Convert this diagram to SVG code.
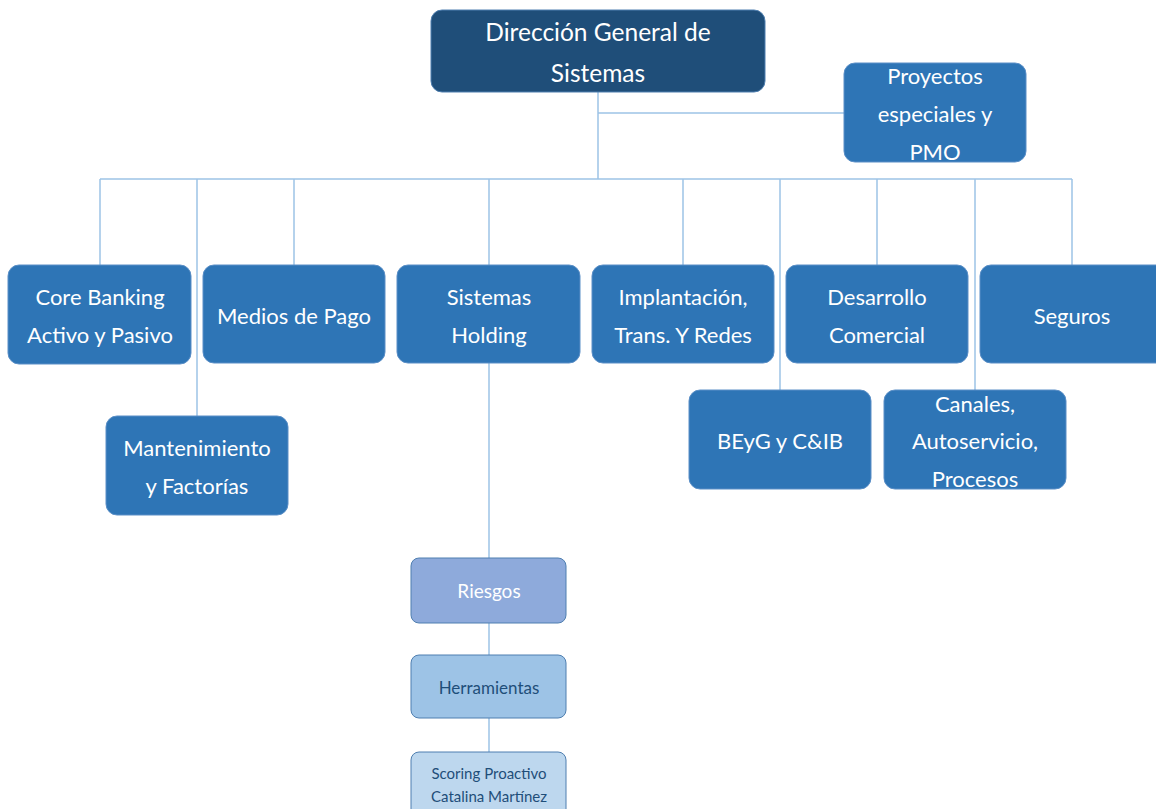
<svg xmlns="http://www.w3.org/2000/svg" width="1156" height="809" viewBox="0 0 1156 809">
  <style>
    .link { stroke: #9dc3e6; stroke-width: 1.5; fill: none; }
    .box { fill: #2e75b6; stroke: #5b8fc7; stroke-width: 1; }
    .head { fill: #1f4e79; stroke: #4f7fb0; stroke-width: 1; }
    .lv1 { fill: #8eaadb; stroke: #4f7fb0; stroke-width: 1; }
    .lv2 { fill: #9dc3e6; stroke: #4f7fb0; stroke-width: 1; }
    .lv3 { fill: #bdd7ee; stroke: #4f7fb0; stroke-width: 1; }
    text { font-family: Lato, "Open Sans", "Liberation Sans", sans-serif; text-anchor: middle; }
    .t { fill: #ffffff; font-size: 22px; }
    .th { fill: #ffffff; font-size: 24.5px; }
    .dark { fill: #1f4e79; }
  </style>
  <rect width="1156" height="809" fill="#ffffff"/>

  <g id="connectors">
    <path class="link" d="M598 92 V179 M598 113 H844"/>
    <path class="link" d="M100 179 H1072"/>
    <path class="link" d="M100 179 V265 M197 179 V416 M294 179 V265 M489 179 V265 M683 179 V265 M780 179 V390 M877 179 V265 M975 179 V390 M1072 179 V265"/>
    <path class="link" d="M489 363 V558 M489 623 V655 M489 718 V752"/>
  </g>

  <g id="direccion">
    <rect class="head" x="431" y="10" width="334" height="82" rx="11"/>
    <text class="th" x="598" y="41">Dirección General de</text>
    <text class="th" x="598" y="82">Sistemas</text>
  </g>
  <g id="proyectos">
    <rect class="box" x="844" y="63" width="182" height="99" rx="11"/>
    <text class="t" x="935" y="84">Proyectos</text>
    <text class="t" x="935" y="122">especiales y</text>
    <text class="t" x="935" y="160">PMO</text>
  </g>
  <g id="core-banking">
    <rect class="box" x="8" y="265" width="183" height="99" rx="11"/>
    <text class="t" x="100" y="305">Core Banking</text>
    <text class="t" x="100" y="343">Activo y Pasivo</text>
  </g>
  <g id="medios-pago">
    <rect class="box" x="203" y="265" width="182" height="98" rx="11"/>
    <text class="t" x="294" y="324">Medios de Pago</text>
  </g>
  <g id="sistemas-holding">
    <rect class="box" x="397" y="265" width="183" height="98" rx="11"/>
    <text class="t" x="489" y="305">Sistemas</text>
    <text class="t" x="489" y="343">Holding</text>
  </g>
  <g id="implantacion">
    <rect class="box" x="592" y="265" width="182" height="98" rx="11"/>
    <text class="t" x="683" y="305">Implantación,</text>
    <text class="t" x="683" y="343">Trans. Y Redes</text>
  </g>
  <g id="desarrollo">
    <rect class="box" x="786" y="265" width="182" height="98" rx="11"/>
    <text class="t" x="877" y="305">Desarrollo</text>
    <text class="t" x="877" y="343">Comercial</text>
  </g>
  <g id="seguros">
    <rect class="box" x="980" y="265" width="190" height="98" rx="11"/>
    <text class="t" x="1072" y="324">Seguros</text>
  </g>
  <g id="mantenimiento">
    <rect class="box" x="106" y="416" width="182" height="99" rx="11"/>
    <text class="t" x="197" y="456">Mantenimiento</text>
    <text class="t" x="197" y="494">y Factorías</text>
  </g>
  <g id="beyg">
    <rect class="box" x="689" y="390" width="182" height="99" rx="11"/>
    <text class="t" x="780" y="449">BEyG y C&amp;IB</text>
  </g>
  <g id="canales">
    <rect class="box" x="884" y="390" width="182" height="99" rx="11"/>
    <text class="t" x="975" y="412">Canales,</text>
    <text class="t" x="975" y="449">Autoservicio,</text>
    <text class="t" x="975" y="487">Procesos</text>
  </g>
  <g id="riesgos">
    <rect class="lv1" x="411" y="558" width="155" height="65" rx="8"/>
    <text x="489" y="598" fill="#ffffff" font-size="19">Riesgos</text>
  </g>
  <g id="herramientas">
    <rect class="lv2" x="411" y="655" width="155" height="63" rx="8"/>
    <text class="dark" x="489" y="694" font-size="17">Herramientas</text>
  </g>
  <g id="scoring">
    <rect class="lv3" x="411" y="752" width="155" height="70" rx="8"/>
    <text class="dark" x="489" y="779" font-size="15">Scoring Proactivo</text>
    <text class="dark" x="489" y="802" font-size="15">Catalina Martínez</text>
  </g>
</svg>
